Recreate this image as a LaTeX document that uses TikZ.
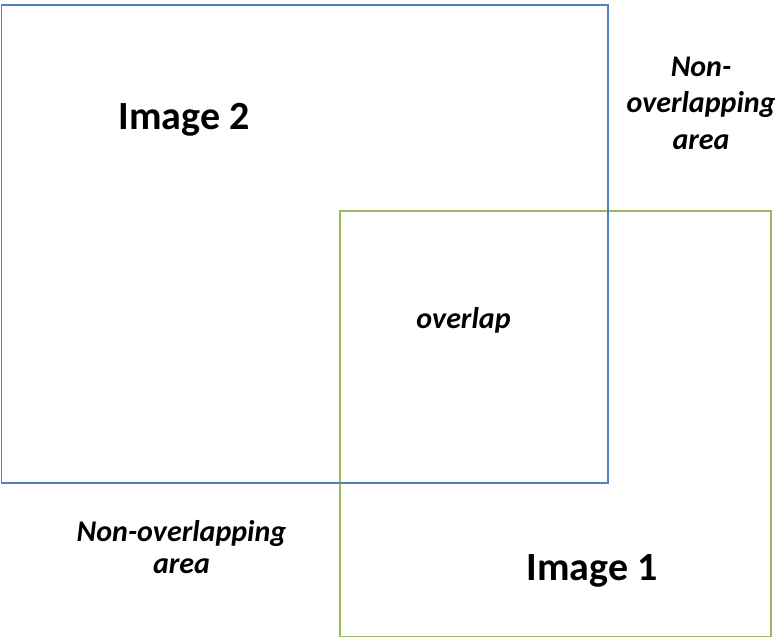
\documentclass[tikz,border=0pt]{standalone}
\usepackage{fontspec}
\setmainfont{Carlito}
\definecolor{imgblue}{HTML}{4F81BD}
\definecolor{imggreen}{HTML}{9BBB59}
\begin{document}
\begin{tikzpicture}[x=1pt,y=1pt,
 imgbox/.style={line width=1.8pt},
 imglabel/.style={font=\bfseries\fontsize{40}{48}\selectfont,anchor=base,inner sep=0pt},
 arealabel/.style={font=\bfseries\itshape\fontsize{30}{36}\selectfont,anchor=base,inner sep=0pt,align=center}]
 \useasboundingbox (0,0) rectangle (783,640);
 % the two image frames
 \draw[imgbox,imggreen] (340,429) rectangle (771,3.5);
 \draw[imgbox,imgblue] (1.5,635) rectangle (608,157);
 \node[imglabel] (img2) at (184,510) {Image 2};
 \node[imglabel] (img1) at (592,60) {Image 1};
 \node[arealabel] (ovl) at (463.5,311) {overlap};
 % base of a multi-line node is its last line
 \node[arealabel,font=\bfseries\itshape\fontsize{30}{36.5}\selectfont] (nonright) at (701,490.5) {Non-\\overlapping\\area};
 \node[arealabel,font=\bfseries\itshape\fontsize{30}{31.5}\selectfont] (nonleft) at (181.5,67) {Non-overlapping\\area};
\end{tikzpicture}
\end{document}
